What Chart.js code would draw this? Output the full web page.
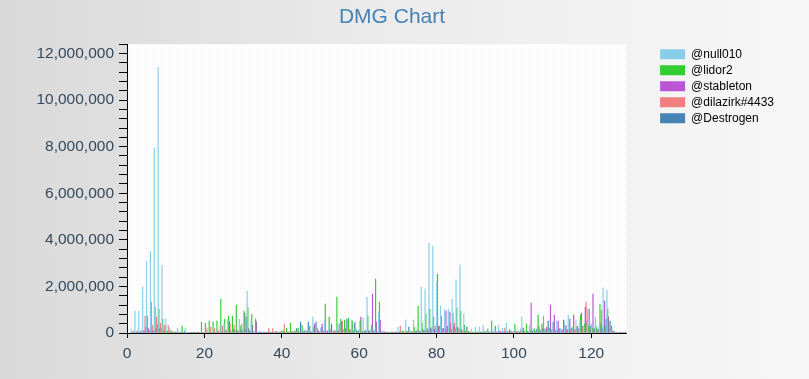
<!DOCTYPE html>
<html><head><meta charset="utf-8">
<script src="https://cdn.jsdelivr.net/npm/chart.js@4.4.1/dist/chart.umd.min.js"></script>
<style>
html,body{margin:0;padding:0;overflow:hidden;background:#eeeeee;}
#c{display:block;background:linear-gradient(to right,#d9d9d9 0%,#ececec 50%,#f7f7f7 100%);}
</style></head>
<body><canvas id="c" width="809" height="379"></canvas>
<script>
// Categories (point index 1..128)
const categories = Array.from({length:128},(_,i)=>i+1);
const seriesNames = ['@null010','@lidor2','@stableton','@dilazirk#4433','@Destrogen'];
const seriesColors = ['#87CEEB','#32CD32','#BA55D3','#F08080','#4682B4'];

const null010 = [
170000,950000,950000,1980000,3070000,3500000,7930000,11400000,2920000,600000,
240000,50000,220000,50000,220000,10000,10000,10000,20000,30000,
20000,40000,30000,300000,390000,600000,100000,80000,590000,200000,
1800000,520000,50000,40000,30000,40000,30000,50000,40000,60000,
50000,40000,60000,80000,50000,60000,100000,690000,150000,200000,
520000,100000,80000,150000,430000,100000,80000,560000,470000,100000,
650000,1550000,200000,150000,900000,40000,30000,50000,60000,260000,
80000,560000,100000,560000,150000,1980000,1890000,3870000,3740000,2190000,
1160000,1000000,1030000,1460000,2280000,2920000,820000,60000,170000,260000,
260000,340000,60000,80000,260000,340000,220000,430000,60000,80000,
130000,690000,100000,340000,150000,250000,150000,200000,100000,470000,
520000,200000,470000,770000,200000,560000,560000,300000,1030000,400000,
690000,300000,1940000,1850000,100000,20000,10000,10000];

const lidor2 = [
50000,40000,60000,100000,730000,1330000,1130000,1030000,600000,100000,
80000,30000,50000,300000,50000,20000,40000,40000,470000,430000,
520000,470000,520000,1460000,600000,730000,730000,1200000,300000,950000,
1100000,800000,600000,60000,40000,50000,40000,60000,50000,100000,
220000,430000,100000,220000,340000,100000,300000,250000,200000,250000,
1250000,690000,100000,1550000,600000,560000,650000,520000,150000,520000,
100000,730000,340000,2320000,1330000,60000,40000,60000,40000,50000,
100000,80000,60000,260000,1160000,430000,820000,1030000,690000,2540000,
730000,150000,200000,860000,1080000,950000,340000,80000,50000,60000,
50000,80000,170000,520000,300000,100000,60000,80000,100000,390000,
60000,100000,390000,100000,200000,770000,390000,150000,220000,470000,
150000,100000,200000,150000,260000,260000,770000,400000,300000,200000,
300000,1250000,300000,1030000,300000,30000,20000,10000];

const stableton = [
30000,50000,50000,80000,220000,100000,150000,200000,80000,50000,
40000,50000,30000,20000,20000,10000,10000,10000,20000,20000,
30000,30000,40000,60000,70000,520000,150000,100000,120000,860000,
200000,340000,470000,30000,20000,30000,30000,40000,30000,40000,
30000,50000,70000,60000,80000,40000,60000,390000,100000,390000,
80000,150000,60000,100000,470000,200000,100000,100000,80000,690000,
80000,100000,1680000,470000,560000,40000,30000,30000,50000,40000,
60000,60000,50000,80000,100000,150000,100000,200000,150000,300000,
200000,950000,900000,300000,250000,150000,80000,40000,30000,40000,
30000,50000,40000,60000,50000,60000,40000,50000,40000,60000,
50000,220000,80000,1290000,100000,300000,200000,250000,1200000,770000,
520000,150000,340000,600000,770000,300000,860000,1120000,1030000,1680000,
200000,400000,1380000,700000,80000,50000,50000,50000];

const dilazirk4433 = [
100000,100000,120000,730000,150000,340000,690000,420000,300000,340000,
100000,50000,20000,30000,20000,10000,10000,20000,30000,200000,
260000,200000,100000,300000,150000,400000,340000,120000,390000,150000,
100000,60000,40000,50000,60000,200000,200000,80000,60000,390000,
60000,80000,50000,40000,60000,80000,50000,100000,80000,60000,
60000,40000,100000,80000,520000,100000,170000,60000,50000,60000,
120000,80000,100000,60000,100000,80000,40000,30000,40000,300000,
50000,60000,80000,60000,80000,100000,200000,150000,300000,250000,
100000,120000,430000,430000,100000,80000,60000,50000,40000,30000,
60000,40000,50000,40000,60000,80000,220000,60000,50000,80000,
40000,60000,50000,80000,60000,100000,730000,100000,80000,100000,
80000,60000,100000,120000,100000,80000,200000,1330000,200000,150000,
100000,990000,300000,200000,60000,20000,10000,10000];

const destrogen = [
20000,30000,50000,270000,100000,100000,360000,200000,340000,120000,
50000,30000,50000,80000,20000,10000,10000,10000,20000,20000,
20000,30000,30000,40000,60000,80000,150000,60000,100000,700000,
80000,50000,30000,40000,30000,40000,30000,50000,80000,50000,
40000,60000,200000,470000,100000,470000,80000,470000,60000,100000,
100000,390000,80000,390000,150000,600000,120000,430000,100000,80000,
60000,100000,80000,50000,60000,30000,20000,40000,30000,60000,
40000,260000,60000,100000,60000,120000,150000,250000,200000,300000,
200000,300000,150000,200000,200000,100000,260000,30000,20000,40000,
30000,60000,30000,50000,40000,50000,80000,130000,60000,50000,
170000,80000,60000,100000,150000,120000,150000,520000,150000,120000,
200000,560000,150000,200000,150000,200000,300000,500000,300000,200000,
150000,200000,600000,520000,100000,30000,20000,10000];

const xTickValues = [0,20,40,60,80,100,120];
const yLabelValues = [0,2000000,4000000,6000000,8000000,10000000,12000000];

const allSeries = [null010, lidor2, stableton, dilazirk4433, destrogen];
// the bar groups sit a little right of each index in the original drawing
const GROUP_SHIFT = 0.45;

const plotBg = {
  id:'plotBg',
  beforeDraw(chart){
    const {ctx, chartArea:a} = chart;
    ctx.save();
    ctx.fillStyle = '#ffffff';
    ctx.fillRect(a.left, a.top, a.right-a.left, a.bottom-a.top);
    const p = document.createElement('canvas'); p.width = 4; p.height = 4;
    const pc = p.getContext('2d');
    pc.fillStyle = '#f1f1f1';
    pc.fillRect(0,0,1,1); pc.fillRect(2,2,1,1);
    ctx.fillStyle = ctx.createPattern(p,'repeat');
    ctx.fillRect(a.left, a.top, a.right-a.left, a.bottom-a.top);
    ctx.restore();
  }
};

const FONT = "'Liberation Sans', Arial, sans-serif";
const axisColor = '#34495e';

new Chart(document.getElementById('c'), {
  type:'bar',
  data:{
    datasets: allSeries.map((s,k)=>({
      label: seriesNames[k],
      data: categories.map((x,i)=>({x:x + GROUP_SHIFT, y:s[i]})),
      backgroundColor: seriesColors[k],
      borderWidth: 0,
      barThickness: 0.78,
      inflateAmount: 0.2,
      xAxisID:'x', yAxisID:'y'
    }))
  },
  options:{
    responsive:false,
    animation:false,
    events:[],
    layout:{padding:{left:0,right:25,top:0,bottom:0}},
    plugins:{
      title:{display:true,text:'DMG Chart',color:'#4682B4',
        font:{family:FONT,size:21,weight:'normal'},
        padding:{top:5,bottom:14}},
      legend:{display:true,position:'right',align:'start',fullSize:false,
        labels:{boxWidth:25,boxHeight:10,padding:4,color:'#000000',
          font:{family:FONT,size:12}}},
      tooltip:{enabled:false}
    },
    scales:{
      x:{type:'linear',position:'bottom',min:0,max:129,offset:false,
        grid:{display:true,drawOnChartArea:false,drawTicks:true,tickLength:5,color:'#000000',offset:false},
        border:{display:true,color:'#000000',width:1},
        afterBuildTicks(s){ s.ticks = xTickValues.map(v=>({value:v})); },
        ticks:{color:axisColor,font:{family:FONT,size:15.5},padding:6,maxRotation:0,autoSkip:false,
          callback:(v)=>String(v)},
        afterFit(s){ s.height = 46; }
      },
      y:{type:'linear',position:'left',min:0,max:12400000,
        grid:{display:true,drawOnChartArea:false,drawTicks:true,tickLength:8,color:'#000000'},
        border:{display:true,color:'#000000',width:1},
        ticks:{stepSize:400000,autoSkip:false,color:axisColor,font:{family:FONT,size:15.5},padding:5,
          callback:(v)=> yLabelValues.includes(Math.round(v)) ? Math.round(v).toLocaleString('en-US') : ''},
        afterFit(s){ s.width = 127; }
      },
      yr:{type:'linear',position:'right',display:true,min:0,max:1,
        grid:{display:false},border:{display:false},ticks:{display:false},
        afterFit(s){ s.width = 30; }
      }
    }
  },
  plugins:[plotBg]
});
</script>
</body></html>
